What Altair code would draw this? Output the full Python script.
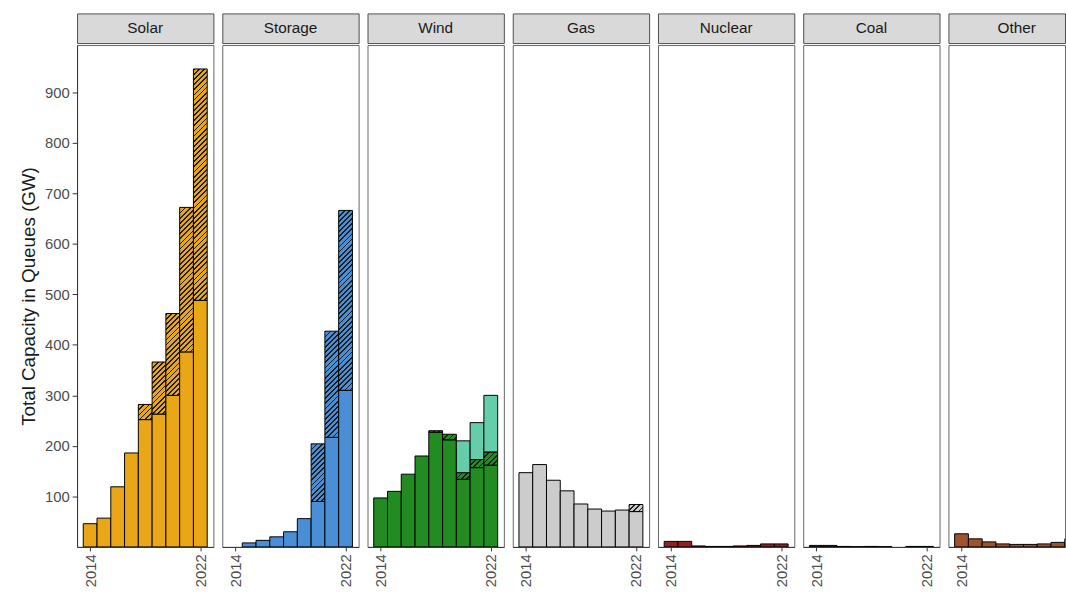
import altair as alt

# ---- data (GW in interconnection queues, by year) ----
YEARS = [2014, 2015, 2016, 2017, 2018, 2019, 2020, 2021, 2022]
SOURCES = ["Solar", "Storage", "Wind", "Gas", "Nuclear", "Coal", "Other"]

solar_standalone = [46, 57, 119, 186, 252, 263, 300, 386, 488]
solar_hybrid = [0, 0, 0, 0, 30, 103, 162, 286, 458]

storage_standalone = [0, 8, 13, 20, 30, 56, 90, 217, 310]
storage_hybrid = [0, 0, 0, 0, 0, 0, 114, 210, 356]

wind_onshore = [97, 110, 144, 180, 227, 212, 134, 157, 162]
wind_onshore_hybrid = [0, 0, 0, 0, 3, 11, 13, 16, 26]
wind_offshore = [0, 0, 0, 0, 0, 0, 63, 73, 112]

gas_standalone = [147, 163, 132, 111, 85, 75, 71, 73, 70]
gas_hybrid = [0, 0, 0, 0, 0, 0, 0, 0, 14]

nuclear = [11, 11, 2, 1, 1, 2, 3, 6, 6]
coal = [3, 3, 1, 0.5, 1, 0.5, 0, 1, 1]
other = [26, 16, 10, 6, 5, 5, 6, 9, 16]

X_TICKS = [2014, 2022]

COLORS = {
    "Solar": "#E9A617",
    "Storage": "#4A8FD6",
    "Wind": "#228B22",
    "Offshore": "#66CDAA",
    "Gas": "#CCCCCC",
    "Nuclear": "#8B2323",
    "Coal": "#2E2E2E",
    "Other": "#A0522D",
}

# stacking order (bottom to top): (values, colour key, hatched?)
SEGMENTS = {
    "Solar": [(solar_standalone, "Solar", False), (solar_hybrid, "Solar", True)],
    "Storage": [(storage_standalone, "Storage", False), (storage_hybrid, "Storage", True)],
    "Wind": [(wind_onshore, "Wind", False), (wind_onshore_hybrid, "Wind", True),
             (wind_offshore, "Offshore", False)],
    "Gas": [(gas_standalone, "Gas", False), (gas_hybrid, "Gas", True)],
    "Nuclear": [(nuclear, "Nuclear", False)],
    "Coal": [(coal, "Coal", False)],
    "Other": [(other, "Other", False)],
}

# ---- layout ----
FONT = "Liberation Sans"
PANEL_W = 138
LAST_PANEL_W = 118          # the last panel runs to the right edge of the page
PANEL_H = 508
STRIP_H = 30
X_LO, X_HI = 2013.05, 2022.95
PX_PER_YEAR = PANEL_W / (X_HI - X_LO)
Y_MAX = 993.3
Y_TICKS = [100, 200, 300, 400, 500, 600, 700, 800, 900]
HATCH_INK = "#1c1c1c"
HATCH_PERIOD = 5.2
HATCH_LINE = 1.8


def hatch(color, value):
    """Diagonal '///' hatching as a hard-stop linear gradient in bbox units."""
    w = PX_PER_YEAR
    h = max(value * PANEL_H / Y_MAX, 0.5)
    span = w + h
    k = span / (w * w + h * h)
    stops = []
    t = 0.0
    while t < span:
        a = t / span
        b = min((t + HATCH_LINE) / span, 1.0)
        stops += [
            {"offset": a, "color": color},
            {"offset": a, "color": HATCH_INK},
            {"offset": b, "color": HATCH_INK},
            {"offset": b, "color": color},
        ]
        t += HATCH_PERIOD
    stops.append({"offset": 1.0, "color": color})
    return {"gradient": "linear", "x1": 0, "y1": 0, "x2": k * w, "y2": k * h, "stops": stops}


def records_for(source):
    rows = []
    for i, year in enumerate(YEARS):
        base = 0.0
        for values, key, hatched in SEGMENTS[source]:
            v = values[i]
            if v <= 0:
                continue
            paint = hatch(COLORS[key], v) if hatched else COLORS[key]
            rows.append({"year": year, "y0": base, "y1": base + v, "paint": paint})
            base += v
    return rows


def strip(source, width):
    return alt.Chart(alt.Data(values=[{"panel": source}])).mark_text(
        font=FONT, fontSize=15.5, color="#1a1a1a"
    ).encode(
        text="panel:N",
        x=alt.value(PANEL_W / 2),
        y=alt.value(STRIP_H / 2),
    ).properties(
        width=width,
        height=STRIP_H,
        view=alt.ViewBackground(fill="#D9D9D9", stroke="#4d4d4d", strokeWidth=1),
    )


def bars(source, first, width):
    y_axis = alt.Axis(
        values=Y_TICKS,
        title="Total Capacity in Queues (GW)",
        titleFont=FONT,
        titleFontSize=19,
        titleFontWeight="normal",
        titleColor="#1a1a1a",
        titlePadding=6,
        labelFont=FONT,
        labelFontSize=15,
        labelColor="#4d4d4d",
        labelPadding=3,
        tickColor="#333333",
        tickSize=5,
        domainColor="#333333",
        grid=False,
    ) if first else None
    x_hi = X_LO + width / PX_PER_YEAR
    # only label the years that fall inside this panel's visible range
    ticks = [t for t in X_TICKS if t <= x_hi]
    return alt.Chart(alt.Data(values=records_for(source))).transform_calculate(
        x0="datum.year - 0.5", x1="datum.year + 0.5"
    ).mark_bar(stroke="#000000", strokeWidth=1, clip=True).encode(
        x=alt.X(
            "x0:Q",
            scale=alt.Scale(domain=[X_LO, x_hi], nice=False, zero=False),
            axis=alt.Axis(
                values=ticks,
                format="d",
                title=None,
                labelAngle=270,
                labelFont=FONT,
                labelFontSize=15,
                labelColor="#4d4d4d",
                labelPadding=3,
                tickColor="#333333",
                tickSize=4,
                domainColor="#333333",
                grid=False,
            ),
        ),
        x2="x1:Q",
        y=alt.Y("y0:Q", scale=alt.Scale(domain=[0, Y_MAX], nice=False), axis=y_axis),
        y2="y1:Q",
        fill=alt.Fill("paint:N", scale=None),
    ).properties(
        width=width,
        height=PANEL_H,
        view=alt.ViewBackground(fill="#FFFFFF", stroke="#666666", strokeWidth=1),
    )


panels = []
for i, s in enumerate(SOURCES):
    w = LAST_PANEL_W if i == len(SOURCES) - 1 else PANEL_W
    panels.append(alt.vconcat(strip(s, w), bars(s, i == 0, w), spacing=0))

chart = alt.hconcat(*panels, spacing=7).properties(
    padding={"left": 19, "top": 9, "right": 0, "bottom": 0},
    background="#FFFFFF",
)

chart.save("out.html", embed_options={"renderer": "svg", "actions": False})
